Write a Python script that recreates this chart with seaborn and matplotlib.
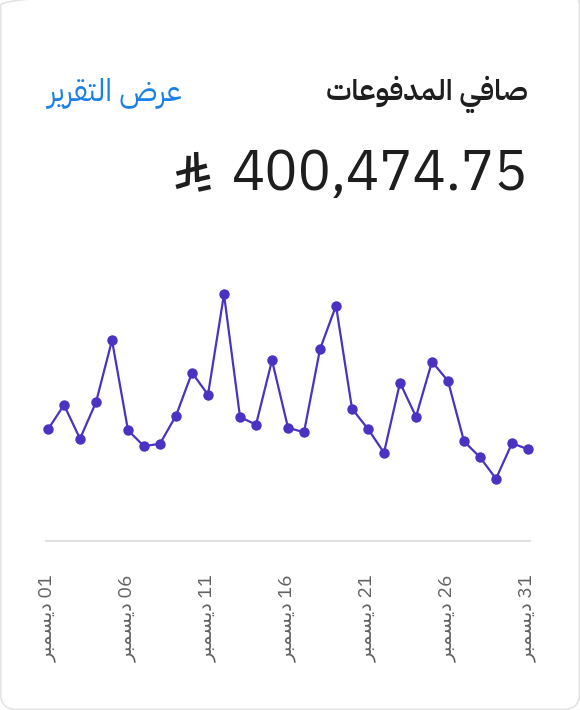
import matplotlib
matplotlib.use("Agg")
import matplotlib.pyplot as plt
from matplotlib.patches import FancyBboxPatch
from matplotlib.lines import Line2D
from matplotlib import transforms
import seaborn as sns

# daily net payments for December (SAR)
days = list(range(1, 32))
payments = [10810, 13170, 9900, 13430, 19430, 10720, 9170, 9420, 12130, 16290,
            14160, 23880, 12000, 11260, 17490, 10970, 10520, 18560, 22780, 12810,
            10840, 8550, 15320, 12030, 17360, 15490, 9650, 8100, 6030, 9460, 8880]
tick_days = [1, 6, 11, 16, 21, 26, 31]
month_name = "ديسمبر"
title_text = "صافي المدفوعات"
link_text = "عرض التقرير"
total_text = "400,474.75"

# matplotlib has no arabic shaping, so map letters to presentation forms
# (isolated, final, initial, medial) and reverse into visual order
FORMS = {
    "ا": (0xFE8D, 0xFE8E, None, None),
    "ب": (0xFE8F, 0xFE90, 0xFE91, 0xFE92),
    "ت": (0xFE95, 0xFE96, 0xFE97, 0xFE98),
    "د": (0xFEA9, 0xFEAA, None, None),
    "ر": (0xFEAD, 0xFEAE, None, None),
    "س": (0xFEB1, 0xFEB2, 0xFEB3, 0xFEB4),
    "ص": (0xFEB9, 0xFEBA, 0xFEBB, 0xFEBC),
    "ض": (0xFEBD, 0xFEBE, 0xFEBF, 0xFEC0),
    "ع": (0xFEC9, 0xFECA, 0xFECB, 0xFECC),
    "ف": (0xFED1, 0xFED2, 0xFED3, 0xFED4),
    "ق": (0xFED5, 0xFED6, 0xFED7, 0xFED8),
    "ل": (0xFEDD, 0xFEDE, 0xFEDF, 0xFEE0),
    "م": (0xFEE1, 0xFEE2, 0xFEE3, 0xFEE4),
    "و": (0xFEED, 0xFEEE, None, None),
    "ي": (0xFEF1, 0xFEF2, 0xFEF3, 0xFEF4),
}


def shape(text):
    out = []
    for i, ch in enumerate(text):
        forms = FORMS.get(ch)
        if forms is None:
            out.append(ch)
            continue
        prev = text[i - 1] if i > 0 else ""
        nxt = text[i + 1] if i + 1 < len(text) else ""
        joins_prev = prev in FORMS and FORMS[prev][2] is not None
        joins_next = forms[2] is not None and nxt in FORMS
        if joins_prev and joins_next:
            code = forms[3]
        elif joins_prev:
            code = forms[1]
        elif joins_next:
            code = forms[2]
        else:
            code = forms[0]
        out.append(chr(code))
    return "".join(reversed(out))


sns.set_style("white")
FONT = ["IBM Plex Sans Arabic", "DejaVu Sans"]
plt.rcParams["font.family"] = FONT

W, H = 580, 710
fig = plt.figure(figsize=(W / 100, H / 100), dpi=100)
fig.patch.set_facecolor("white")

# card outline
card = FancyBboxPatch((0.006, 0.006), 5.788, 7.2, boxstyle="round,pad=0,rounding_size=0.16",
                      transform=fig.dpi_scale_trans, facecolor="none", edgecolor="#e3e3e3",
                      linewidth=1.2, zorder=-10)
fig.patches.append(card)

# header texts
fig.text(528 / W, 1 - 100 / H, shape(title_text), ha="right", va="baseline",
         fontsize=21, fontweight="semibold", color="#1e1e1e")
fig.text(48 / W, 1 - 100 / H, shape(link_text), ha="left", va="baseline",
         fontsize=22, color="#1a80e5")
fig.text(528 / W, 1 - 190 / H, total_text, ha="right", va="baseline",
         fontsize=40, color="#1e1e1e")

# the new saudi riyal sign (U+20C1) has no usable glyph in any installed font,
# so it is drawn as strokes in a unit box placed left of the amount
riyal_strokes = [
    [(0.37, 0.90), (0.34, 0.17), (0.03, 0.08)],
    [(0.57, 1.00), (0.60, 0.21)],
    [(0.04, 0.43), (0.86, 0.64)],
    [(0.63, 0.28), (0.94, 0.35)],
    [(0.63, 0.01), (0.96, 0.08)],
]
glyph_tf = transforms.Affine2D().scale(37, 38).translate(175, H - 190)
for stroke in riyal_strokes:
    xs, ys = zip(*stroke)
    fig.add_artist(Line2D(xs, ys, transform=glyph_tf, color="#1e1e1e", linewidth=3.2,
                          solid_capstyle="butt", solid_joinstyle="round"))

# chart area: x from 0.9 to 31.1 days (16 px per day), y baseline at 541 px
ax = fig.add_axes([46.4 / W, (H - 541) / H, 483.2 / W, 281 / H])
sns.lineplot(x=days, y=payments, ax=ax, color="#4b32c3", linewidth=1.6,
             marker="o", markersize=7.5, markeredgewidth=0, markeredgecolor="#4b32c3",
             clip_on=False)
ax.set_xlim(0.9, 31.1)
ax.set_ylim(0, 27200)
ax.set_yticks([])
ax.set_xticks(tick_days)
ax.set_xticklabels([shape(month_name) + " " + f"{d:02d}" for d in tick_days],
                   rotation=90, fontsize=14, color="#626262",
                   family=["IBM Plex Sans", "DejaVu Sans"])
ax.tick_params(axis="x", length=0, pad=24)
for side in ["top", "left", "right"]:
    ax.spines[side].set_visible(False)
ax.spines["bottom"].set_color("#e0e0e0")
ax.spines["bottom"].set_linewidth(1.4)
ax.set_xlabel("")
ax.set_ylabel("")
ax.patch.set_alpha(0)

fig.savefig("out.png", dpi=100)
